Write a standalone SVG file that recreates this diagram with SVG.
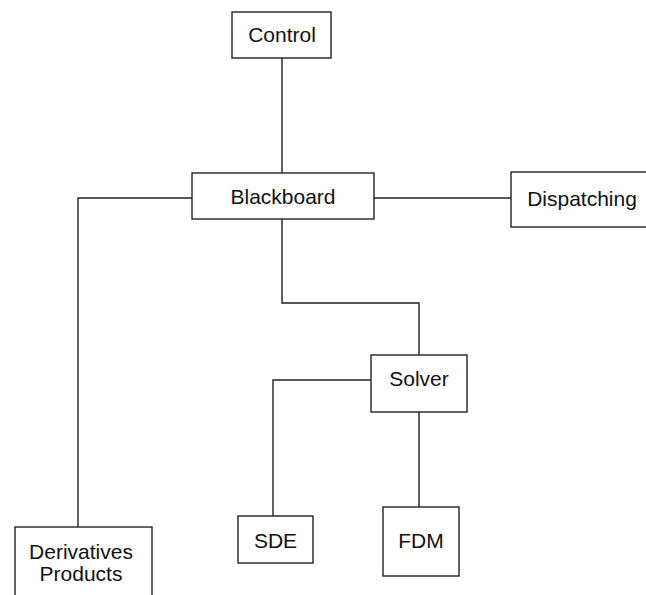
<svg xmlns="http://www.w3.org/2000/svg" width="646" height="595" viewBox="0 0 646 595">
<style>
.box{fill:#fff;stroke:#222;stroke-width:1.4}
.conn{fill:none;stroke:#222;stroke-width:1.4}
text{font-family:"Liberation Sans",Arial,sans-serif;font-size:21px;fill:#111;text-anchor:middle}
</style>
<rect width="646" height="595" fill="#fff"/>
<g id="connectors">
<path class="conn" d="M282,58 V173"/>
<path class="conn" d="M374,198 H511"/>
<path class="conn" d="M192,198 H78 V527"/>
<path class="conn" d="M282,219 V303 H419 V355"/>
<path class="conn" d="M371,380 H273 V516"/>
<path class="conn" d="M419,412 V507"/>
</g>
<g id="control"><rect class="box" x="232" y="12" width="99" height="46"/><text x="282" y="42">Control</text></g>
<g id="blackboard"><rect class="box" x="192" y="173" width="182" height="46"/><text x="283" y="204">Blackboard</text></g>
<g id="dispatching"><rect class="box" x="511" y="172" width="142" height="55"/><text x="582" y="206">Dispatching</text></g>
<g id="solver"><rect class="box" x="371" y="355" width="96" height="57"/><text x="419" y="386">Solver</text></g>
<g id="derivatives"><rect class="box" x="15" y="527" width="137" height="80"/><text x="81" y="559">Derivatives</text><text x="81" y="581">Products</text></g>
<g id="sde"><rect class="box" x="238" y="516" width="75" height="47"/><text x="275.5" y="548">SDE</text></g>
<g id="fdm"><rect class="box" x="383" y="507" width="76" height="69"/><text x="421" y="548">FDM</text></g>
</svg>
